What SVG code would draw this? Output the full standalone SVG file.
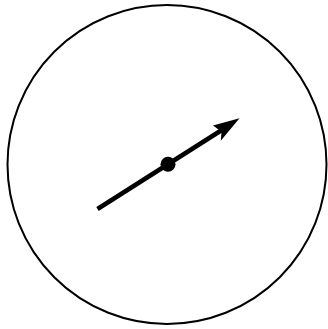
<svg xmlns="http://www.w3.org/2000/svg" width="328" height="329" viewBox="0 0 328 329">
<style>
.outline{fill:#fff;stroke:#000;stroke-width:2}
.shaft{stroke:#000;stroke-width:4.5;fill:none}
.ink{fill:#000}
</style>
<rect width="328" height="329" fill="#fff"/>
<g id="dial"><circle class="outline" cx="167" cy="164.5" r="159.5"/></g>
<g id="connectors">
<line class="shaft" x1="97.5" y1="209" x2="225" y2="128"/>
<path class="ink" d="M239.5,118.3 L213,125.5 L221.5,131.8 L220.8,140.8 Z"/>
</g>
<g id="pivot"><circle class="ink" cx="168" cy="164.2" r="7.5"/></g>
</svg>
